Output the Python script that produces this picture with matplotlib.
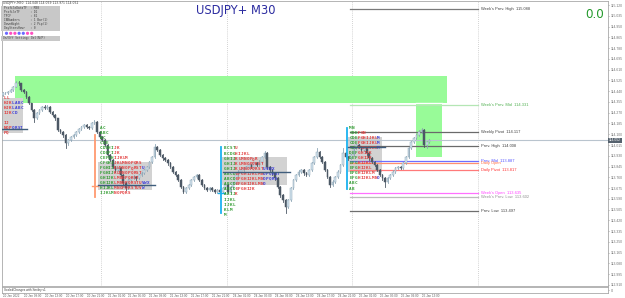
import matplotlib
matplotlib.use('Agg')
import matplotlib.pyplot as plt
from matplotlib.patches import Rectangle, Circle

# ---------------- data ----------------
symbol_title = "USDJPY+ M30"
info_line = "USDJPY+,M30  114.048 114.059 113.971 114.052"
current_price = 114.052
open0 = 114.410
closes = [
    114.423, 114.423, 114.436, 114.449, 114.475, 114.507, 114.502, 114.449, 114.436, 114.397,
    114.344, 114.291, 114.226, 114.265, 114.291, 114.318, 114.304, 114.318, 114.278, 114.252,
    114.226, 114.133, 114.120, 114.094, 114.028, 114.054, 114.081, 114.094, 114.120, 114.139,
    114.160, 114.173, 114.160, 114.147, 114.186, 114.199, 114.120, 114.081, 114.054, 114.015,
    113.936, 113.897, 113.844, 113.818, 113.831, 113.778, 113.713, 113.673, 113.739, 113.752,
    113.765, 113.752, 113.778, 113.792, 113.818, 113.844, 113.884, 113.923, 114.002, 113.976,
    113.936, 113.910, 113.897, 113.870, 113.844, 113.805, 113.778, 113.739, 113.686, 113.647,
    113.673, 113.700, 113.739, 113.765, 113.778, 113.739, 113.700, 113.673, 113.660, 113.673,
    113.660, 113.647, 113.660, 113.647, 113.673, 113.700, 113.647, 113.686, 113.713, 113.778,
    113.805, 113.818, 113.831, 113.844, 113.857, 113.844, 113.870, 113.857, 113.884, 113.923,
    113.949, 113.844, 113.818, 113.792, 113.752, 113.686, 113.620, 113.581, 113.528, 113.581,
    113.673, 113.739, 113.778, 113.805, 113.818, 113.792, 113.778, 113.818, 113.870, 113.923,
    113.962, 113.923, 113.884, 113.818, 113.765, 113.700, 113.726, 113.765, 113.805, 113.857,
    113.949, 113.923, 113.910, 113.936, 113.989, 114.015, 114.002, 113.976, 113.989, 113.949,
    113.910, 113.884, 113.857, 113.818, 113.778, 113.752, 113.726, 113.752, 113.778, 113.805,
    113.831, 113.844, 113.831, 113.870, 113.923, 113.989, 114.041, 114.068, 114.094, 114.120,
    114.133, 114.015, 114.041, 114.052]
highs = [
    114.430, 114.432, 114.444, 114.458, 114.484, 114.523, 114.518, 114.508, 114.455, 114.442,
    114.402, 114.350, 114.298, 114.272, 114.300, 114.326, 114.328, 114.330, 114.324, 114.285,
    114.260, 114.232, 114.145, 114.128, 114.100, 114.062, 114.090, 114.102, 114.128, 114.148,
    114.168, 114.182, 114.180, 114.168, 114.195, 114.212, 114.205, 114.128, 114.090, 114.062,
    114.022, 113.945, 113.905, 113.852, 113.840, 113.838, 113.785, 113.720, 113.748, 113.762,
    113.775, 113.772, 113.787, 113.800, 113.826, 113.852, 113.892, 113.932, 114.023, 114.010,
    113.984, 113.945, 113.918, 113.905, 113.878, 113.852, 113.812, 113.786, 113.746, 113.694,
    113.680, 113.708, 113.748, 113.774, 113.790, 113.785, 113.746, 113.708, 113.680, 113.682,
    113.680, 113.668, 113.668, 113.666, 113.682, 113.708, 113.705, 113.694, 113.722, 113.786,
    113.814, 113.828, 113.840, 113.853, 113.868, 113.865, 113.880, 113.878, 113.893, 113.932,
    113.970, 113.956, 113.852, 113.826, 113.800, 113.760, 113.694, 113.628, 113.590, 113.590,
    113.682, 113.748, 113.787, 113.815, 113.828, 113.826, 113.800, 113.827, 113.880, 113.932,
    113.989, 113.970, 113.930, 113.892, 113.826, 113.772, 113.735, 113.774, 113.814, 113.866,
    113.989, 113.958, 113.932, 113.945, 113.998, 114.025, 114.022, 114.010, 113.998, 113.996,
    113.956, 113.918, 113.892, 113.865, 113.826, 113.786, 113.760, 113.760, 113.787, 113.814,
    113.840, 113.853, 113.852, 113.879, 113.932, 113.998, 114.050, 114.078, 114.104, 114.130,
    114.152, 114.140, 114.050, 114.060]
lows = [
    114.402, 114.415, 114.418, 114.430, 114.442, 114.470, 114.490, 114.440, 114.425, 114.388,
    114.335, 114.280, 114.199, 114.218, 114.258, 114.285, 114.296, 114.298, 114.270, 114.244,
    114.215, 114.125, 114.110, 114.082, 113.989, 114.015, 114.045, 114.072, 114.088, 114.112,
    114.132, 114.152, 114.150, 114.138, 114.140, 114.178, 114.110, 114.070, 114.045, 114.005,
    113.925, 113.885, 113.832, 113.805, 113.808, 113.768, 113.700, 113.660, 113.665, 113.730,
    113.745, 113.742, 113.745, 113.770, 113.785, 113.810, 113.836, 113.876, 113.915, 113.965,
    113.925, 113.900, 113.886, 113.860, 113.835, 113.795, 113.768, 113.728, 113.675, 113.634,
    113.640, 113.665, 113.692, 113.730, 113.756, 113.730, 113.690, 113.664, 113.650, 113.652,
    113.650, 113.638, 113.640, 113.638, 113.640, 113.665, 113.636, 113.640, 113.678, 113.706,
    113.770, 113.796, 113.810, 113.824, 113.836, 113.835, 113.836, 113.848, 113.850, 113.876,
    113.915, 113.835, 113.808, 113.782, 113.742, 113.675, 113.608, 113.568, 113.476, 113.515,
    113.572, 113.665, 113.730, 113.770, 113.796, 113.782, 113.768, 113.770, 113.810, 113.862,
    113.915, 113.913, 113.874, 113.808, 113.755, 113.686, 113.692, 113.718, 113.756, 113.796,
    113.848, 113.912, 113.900, 113.902, 113.928, 113.980, 113.992, 113.966, 113.968, 113.940,
    113.900, 113.874, 113.848, 113.808, 113.768, 113.742, 113.686, 113.718, 113.745, 113.770,
    113.796, 113.822, 113.822, 113.822, 113.862, 113.915, 113.980, 114.032, 114.060, 114.086,
    114.110, 114.000, 113.990, 114.030]
opens = [open0] + closes[:-1]

price_ticks = [115.120, 115.035, 114.950, 114.865, 114.780, 114.695, 114.610, 114.525, 114.440,
               114.355, 114.270, 114.185, 114.100, 114.015, 113.930, 113.845, 113.760, 113.675,
               113.590, 113.505, 113.420, 113.335, 113.250, 113.165, 113.080, 112.995, 112.910]
time_tick_bars = [0, 8, 16, 24, 32, 40, 48, 56, 64, 72, 80, 88, 96, 104, 112, 120, 128, 136, 144, 152, 160]
time_tick_labels = ["20 Jan 2022", "20 Jan 09:00", "20 Jan 13:00", "20 Jan 17:00", "20 Jan 21:00",
                    "21 Jan 01:00", "21 Jan 05:00", "21 Jan 09:00", "21 Jan 13:00", "21 Jan 17:00",
                    "21 Jan 21:00", "24 Jan 01:00", "24 Jan 05:00", "24 Jan 09:00", "24 Jan 13:00",
                    "24 Jan 17:00", "24 Jan 21:00", "25 Jan 01:00", "25 Jan 05:00", "25 Jan 09:00",
                    "25 Jan 13:00"]
day_separators = [37.5, 85.5, 133.5, 181.5]

level_names = ["Week's Prev. High", "Week's Prev. Mid", "Weekly Pivot", "Prev. High", "Prev. Mid",
               "Daily Open", "Daily Pivot", "Week's Open", "Week's Prev. Low", "Prev. Low"]
level_values = [115.088, 114.331, 114.117, 114.008, 113.887, 113.875, 113.817, 113.635, 113.602, 113.497]
level_show_value = [True, True, True, True, True, False, True, True, True, True]

zone_x0 = [4.5, 157.8]
zone_x1 = [169.7, 167.7]
zone_lo = [114.347, 113.920]
zone_hi = [114.560, 114.347]

va_x0 = [-0.3, 36.3, 83.7, 131.8]
va_x1 = [7.6, 57.0, 108.5, 144.8]
va_lo = [114.110, 113.660, 113.699, 113.802]
va_hi = [114.386, 113.881, 113.920, 114.078]

poc_x0 = [-0.3, 36.3, 84.1, 131.8]
poc_x1 = [9.2, 58.1, 109.7, 146.0]
poc_price = [114.141, 113.699, 113.802, 113.999]

ib_bar = [35.2, 83.4, 131.5]
ib_top = [114.094, 114.000, 114.149]
ib_bot = [113.605, 113.478, 113.668]
ib_mark = [113.691, 113.636, None]

profile_start = [0.2, 37.0, 84.5, 132.3]
profile1_prices = [114.386, 114.347, 114.307, 114.268, 114.189, 114.149, 114.110]
profile1_rows = ["LL", "HJKLABC", "HJKLABC", "IJKCD", "IJ", "NOPQRST", "PQ"]
profile2_prices = [114.149, 114.110, 114.070, 114.031, 113.991, 113.952, 113.912, 113.873,
                   113.833, 113.794, 113.755, 113.715, 113.676, 113.636]
profile2_rows = ["AC", "ABC", "AC", "CDE", "CDEHIJK", "CDEFIJK", "CEFGHIJKLM", "CFGHIJKLMNOPQRS",
                 "FGHIJKLMNOPQRSTU", "FGHIJKLMNOPQRST", "GHIJKLMNOPQRST", "GHIJKLMNOPQRSTUVWX",
                 "HIJKLMNOPQRSTUVW", "IJKLMNOPQRS"]
profile3_prices = [113.991, 113.944, 113.904, 113.865, 113.826, 113.786, 113.747, 113.707,
                   113.668, 113.628, 113.581, 113.541, 113.502, 113.462]
profile3_rows = ["BCSTU", "BCDGHIJKL", "GHIJKLMNOPQR", "GHIJKLMNOPQRST", "GHIJKLMNOPQRSTUVWX",
                 "ABCDEFGHIJKLMNOPQRST", "ABCDEFGHIJKLMNOPQRS", "ABCDEFGHIJKLMNO", "ABCDEFGHIJK",
                 "ABIJK", "IJKL", "IJKL", "KLM", "M"]
profile4_prices = [114.149, 114.110, 114.070, 114.031, 113.991, 113.952, 113.912, 113.873,
                   113.833, 113.794, 113.755, 113.715, 113.668]
profile4_rows = ["MN", "CDEFGN", "CDEFGHIJKLM", "CDEFGHIJKLM", "CDEFGHIJKLM", "DEFGHIJK",
                 "DEFGHIJK", "EFGHIJKL", "EFGHIJKL", "EFGHIJKLM", "EFGHIJKLMNO", "ABC", "AB"]

settings_lines = ["ProfileDataTF  : M30", "ProfileTF      : D1", "TPCF           : 81",
                  "IBNumbers      : 1 Bar(1)", "DownWight      : 2 Pip(1)", "DaySteesHour   : 0"]

# ---------------- figure ----------------
W, H = 625, 298
fig = plt.figure(figsize=(W / 100, H / 100), dpi=100)
fig.patch.set_facecolor('white')


def fbox(x0, y0, x1, y1):
    return [x0 / W, 1 - y1 / H, (x1 - x0) / W, (y1 - y0) / H]


ax = fig.add_axes(fbox(2, 1, 608, 286))
ax.set_xlim(-0.32, 231.2)
ax.set_ylim(112.902, 115.152)
for s in ax.spines.values():
    s.set_color('#a8a8a8')
    s.set_linewidth(0.6)

# day separators
for b in day_separators:
    ax.axvline(b, color='#c4c4c4', lw=0.6, ls=(0, (1, 1.5)), zorder=0)

# green zones
for x0, x1, lo, hi in zip(zone_x0, zone_x1, zone_lo, zone_hi):
    ax.add_patch(Rectangle((x0, lo), x1 - x0, hi - lo, facecolor='#98fb98', edgecolor='none', zorder=1))
ax.plot([zone_x0[1], zone_x1[1]], [zone_hi[1], zone_hi[1]], color='white', lw=1.0, zorder=1.5)

# value area boxes
for x0, x1, lo, hi in zip(va_x0, va_x1, va_lo, va_hi):
    ax.add_patch(Rectangle((x0, lo), x1 - x0, hi - lo, facecolor='#d2d2d2', edgecolor='none', zorder=1))

# bid line
ax.axhline(current_price, color='#b9c4ce', lw=0.8, zorder=1.6)

# level lines
level_line_colors = ['#7a7a7a', '#b4e6b4', '#6a6a6a', '#6a6a6a', '#6e6eff', '#ff9070',
                     '#ff7a7a', '#ff70ff', '#bcbcbc', '#6e6e6e']
level_text_colors = ['#404040', '#50b050', '#404040', '#404040', '#5050ff', '#ff6a40',
                     '#ff3030', '#ff40ff', '#909090', '#404040']
for name, val, show, lc, tc in zip(level_names, level_values, level_show_value,
                                   level_line_colors, level_text_colors):
    ax.plot([132.5, 181.5], [val, val], color=lc, lw=0.9, zorder=2)
    label = f"{name}  {val:.3f}" if show else name
    ax.text(182.6, val, label, fontsize=2.9, color=tc, va='center', ha='left',
            family='Liberation Sans', zorder=6)

# candles
for i, (o, h, l, c) in enumerate(zip(opens, highs, lows, closes)):
    bull = c >= o
    col = '#8ea6b6' if bull else '#4c5865'
    fill = '#d4e4ee' if bull else '#4c5865'
    ax.plot([i, i], [l, h], color=col, lw=0.6, zorder=3)
    bh = max(abs(c - o), 0.0025)
    ax.add_patch(Rectangle((i - 0.32, min(o, c)), 0.64, bh, facecolor=fill, edgecolor=col,
                           lw=0.35, zorder=3.2))

# IB vertical lines
ib_colors = ['#ff9a70', '#1ab2f0', '#1ab2f0']
for b, t, bt, m, c in zip(ib_bar, ib_top, ib_bot, ib_mark, ib_colors):
    ax.plot([b, b], [bt, t], color=c, lw=1.3, zorder=4)
    if m is not None:
        ax.plot([b - 1.3, b + 1.3], [m, m], color=c, lw=1.0, zorder=4)

# TPO letters
char_step = 1.07
green, red, blue = '#2e9a2e', '#e23a3a', '#3a3ad8'
profiles = [
    (profile_start[0], profile1_prices, profile1_rows, (0, 3)),
    (profile_start[1], profile2_prices, profile2_rows, (5, 10)),
    (profile_start[2], profile3_prices, profile3_rows, (4, 10)),
    (profile_start[3], profile4_prices, profile4_rows, (3, 7)),
]
for start, prices, rows, (ng, nr) in profiles:
    for p, row in zip(prices, rows):
        for k, ch in enumerate(row):
            col = green if k < ng else (red if k < ng + nr else blue)
            ax.text(start + k * char_step, p, ch, fontsize=3.1, color=col, family='DejaVu Sans Mono',
                    fontweight='bold', ha='left', va='center', zorder=5)

# POC lines
for x0, x1, p in zip(poc_x0, poc_x1, poc_price):
    ax.plot([x0, x1], [p, p], color='#3f5d7c', lw=1.0, zorder=5.5)

# price axis
ax.yaxis.tick_right()
ax.set_yticks(price_ticks)
ax.set_yticklabels([f"{v:.3f}" for v in price_ticks])
ax.tick_params(axis='y', labelsize=2.4, colors='#707070', length=1.0, width=0.4, pad=1.0)
for lab in ax.get_yticklabels():
    lab.set_family('Liberation Sans')
ax.set_xticks([])
ax.text(1.002, current_price, f"{current_price:.3f}", transform=ax.get_yaxis_transform(),
        fontsize=2.4, family='Liberation Sans', color='white', va='center', ha='left',
        bbox=dict(boxstyle='square,pad=0.25', facecolor='#56626e', edgecolor='none'), zorder=7,
        clip_on=False)

# sub window
ax2 = fig.add_axes(fbox(2, 287, 608, 293))
ax2.set_xlim(ax.get_xlim())
ax2.set_ylim(-1, 1)
for s in ax2.spines.values():
    s.set_color('#a8a8a8')
    s.set_linewidth(0.6)
ax2.yaxis.tick_right()
ax2.set_yticks([0])
ax2.set_yticklabels(['0'])
ax2.tick_params(axis='y', labelsize=2.4, colors='#707070', length=1.0, width=0.4, pad=1.0)
ax2.set_xticks(time_tick_bars)
ax2.set_xticklabels(time_tick_labels)
ax2.tick_params(axis='x', labelsize=2.2, colors='#606060', length=0.6, width=0.4, pad=0.3)
for lab in ax2.get_xticklabels():
    lab.set_ha('left')
    lab.set_family('Liberation Sans')
ax2.text(0.003, 0.5, "ScaledChanges with Smiley v1", transform=ax2.transAxes, fontsize=2.2,
         family='Liberation Sans', color='#404040', va='center', ha='left')

# overlay decorations (pixel coordinates)
ov = fig.add_axes([0, 0, 1, 1])
ov.set_xlim(0, W)
ov.set_ylim(H, 0)
ov.axis('off')
ov.text(236, 10.5, symbol_title, fontsize=8.3, color='#2b2ba0', ha='center', va='center')
ov.text(595, 14.5, "0.0", fontsize=8.6, color='#22992a', ha='center', va='center')
ov.text(3, 3.2, info_line, fontsize=2.2, color='#404040', ha='left', va='center')
ov.add_patch(Rectangle((1, 5.5), 59, 25.5, facecolor='#c8c8c8', edgecolor='none'))
for k, line in enumerate(settings_lines):
    ov.text(4, 8 + k * 4.1, line, fontsize=2.2, color='#404040', family='DejaVu Sans Mono',
            ha='left', va='center')
circle_colors = ['#6a6aff', '#ff50c0', '#ff50c0', '#6a6aff', '#6a6aff', '#ff50c0', '#ff50c0']
for k, cc in enumerate(circle_colors):
    ov.add_patch(Circle((6.5 + k * 4.2, 33.3), 1.6, facecolor=cc, edgecolor='none'))
ov.add_patch(Rectangle((1, 36.3), 59, 4.3, facecolor='#c8c8c8', edgecolor='none'))
ov.text(3, 38.5, "On/Off Setting: Del(N/P)", fontsize=2.2, color='#404040', family='DejaVu Sans Mono',
        ha='left', va='center')

fig.savefig('out.png', dpi=100, facecolor='white')
